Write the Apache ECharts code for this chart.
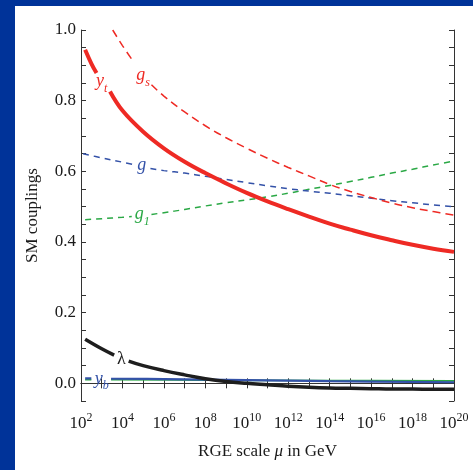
<!DOCTYPE html>
<html>
<head>
<meta charset="utf-8">
<script src="https://cdn.jsdelivr.net/npm/echarts@6/dist/echarts.min.js"></script>
<style>
	html, body { margin: 0; padding: 0; background: #003399; width: 473px; height: 470px; overflow: hidden; }
	#chart { position: absolute; left: 15px; top: 6px; width: 458px; height: 464px; background: #fff; }
</style>
</head>
<body>
<div id="chart"></div>
<script>
// x values are log10(mu / GeV); null marks a gap where a curve label sits
var expYt = [2.2, 2.5, 2.75, null, 3.4, 4, 5, 6, 7, 8, 9, 10, 11, 12, 13, 14, 15, 16, 17, 18, 19, 20];
var valYt = [0.944, 0.905, 0.878, null, 0.826, 0.772, 0.712, 0.665, 0.627, 0.595, 0.566, 0.539, 0.515, 0.493, 0.472, 0.452, 0.435, 0.419, 0.405, 0.392, 0.381, 0.372];

var expGs = [3.53, 4, 4.5, null, 5.4, 6, 7, 8, 9, 10, 11, 12, 13, 14, 15, 16, 17, 18, 19, 20];
var valGs = [1.0, 0.956, 0.913, null, 0.845, 0.813, 0.768, 0.729, 0.695, 0.665, 0.637, 0.611, 0.587, 0.563, 0.543, 0.526, 0.510, 0.497, 0.486, 0.476];

var expG = [2.1, 3, 4, 4.55, null, 5.35, 6, 7, 8, 9, 10, 11, 12, 13, 14, 15, 16, 17, 18, 19, 20];
var valG = [0.650, 0.638, 0.626, 0.619, null, 0.608, 0.602, 0.595, 0.586, 0.577, 0.568, 0.559, 0.551, 0.544, 0.538, 0.531, 0.524, 0.517, 0.511, 0.505, 0.500];

var expG1 = [2.2, 3, 4, 4.45, null, 5.4, 6, 7, 8, 9, 10, 11, 12, 13, 14, 15, 16, 17, 18, 19, 20];
var valG1 = [0.463, 0.466, 0.470, 0.472, null, 0.478, 0.483, 0.492, 0.502, 0.511, 0.519, 0.528, 0.538, 0.549, 0.560, 0.571, 0.583, 0.595, 0.606, 0.618, 0.629];

var expLam = [2.2, 3, 3.6, null, 4.3, 5, 6, 7, 8, 9, 10, 11, 12, 13, 14, 15, 16, 17, 18, 19, 20];
var valLam = [0.125, 0.098, 0.080, null, 0.063, 0.050, 0.036, 0.024, 0.013, 0.005, 0.000, -0.004, -0.008, -0.011, -0.013, -0.014, -0.015, -0.016, -0.016, -0.017, -0.017];

var expYb = [2.2, 2.5, null, 3.45, 6, 10, 14, 20];
var valYb = [0.014, 0.014, null, 0.013, 0.012, 0.009, 0.006, 0.003];

var expGreen = [2.2, 2.5, null, 3.45, 8, 14, 20];
var valGreen = [0.010, 0.010, null, 0.010, 0.009, 0.008, 0.007];

var xLabelExps = [2, 4, 6, 8, 10, 12, 14, 16, 18, 20];
var yLabelVals = [0, 0.2, 0.4, 0.6, 0.8, 1.0];
var yTickVals = [-0.05, 0, 0.05, 0.1, 0.15, 0.2, 0.25, 0.3, 0.35, 0.4, 0.45, 0.5, 0.55, 0.6, 0.65, 0.7, 0.75, 0.8, 0.85, 0.9, 0.95, 1.0];

var serif = '"Liberation Serif", "DejaVu Serif", serif';
var red = '#ee2a24';
var blue = '#3452a8';
var green = '#2aa845';
var black = '#1e1e1e';

function pairs(xs, ys) {
	var out = [];
	for(var i = 0; i < xs.length; i++) {
		if(ys[i] === null) {
			out.push('-');
		} else {
			out.push([xs[i], ys[i]]);
		}
	}
	return out;
}

function curveLabel(x, y, text, color, italic) {
	return {
		symbol: 'circle',
		symbolSize: 0,
		silent: true,
		data: [{ coord: [x, y], value: 0 }],
		label: {
			show: true,
			position: 'inside',
			formatter: text,
			color: color,
			fontFamily: serif,
			fontSize: 18,
			fontStyle: italic ? 'italic' : 'normal',
			rich: {
				m: { fontFamily: serif, fontSize: 18, fontStyle: italic ? 'italic' : 'normal', color: color, lineHeight: 22, verticalAlign: 'top' },
				s: { fontFamily: serif, fontSize: 12, fontStyle: 'italic', color: color, lineHeight: 22, verticalAlign: 'bottom' }
			}
		}
	};
}

function makeLine(name, xs, ys, color, width, dash, mark) {
	var s = {
		name: name,
		type: 'line',
		data: pairs(xs, ys),
		smooth: 0.4,
		showSymbol: false,
		symbol: 'none',
		connectNulls: false,
		silent: true,
		lineStyle: { color: color, width: width, type: dash || 'solid' },
		z: 3
	};
	if(mark) {
		s.markPoint = mark;
	}
	return s;
}

var tickStyle = { color: '#333', width: 1 };
var axisFont = { fontFamily: serif, fontSize: 17, color: '#1a1a1a' };

var option = {
	animation: false,
	grid: { left: 66, right: 19, top: 24, bottom: 69 },
	xAxis: [{
		type: 'value',
		min: 2,
		max: 20,
		interval: 1,
		position: 'bottom',
		axisLine: { lineStyle: tickStyle },
		axisTick: { inside: true, length: 5, lineStyle: tickStyle },
		splitLine: { show: false },
		axisLabel: {
			customValues: xLabelExps,
			margin: 11,
			formatter: function(v) {
				return '{b|10}{s|' + v + '}';
			},
			rich: {
				b: { fontFamily: serif, fontSize: 17, color: '#1a1a1a', lineHeight: 20, verticalAlign: 'bottom' },
				s: { fontFamily: serif, fontSize: 12, color: '#1a1a1a', lineHeight: 20, verticalAlign: 'top' }
			}
		},
		name: 'RGE scale {i|μ} in GeV',
		nameLocation: 'middle',
		nameGap: 42,
		nameTextStyle: {
			fontFamily: serif, fontSize: 17, color: '#1a1a1a',
			rich: { i: { fontFamily: serif, fontSize: 17, fontStyle: 'italic', color: '#1a1a1a' } }
		}
	}, {
		type: 'value',
		min: 2,
		max: 20,
		interval: 1,
		position: 'top',
		axisLine: { lineStyle: tickStyle },
		axisTick: { inside: true, length: 5, lineStyle: tickStyle },
		axisLabel: { show: false },
		splitLine: { show: false }
	}],
	yAxis: [{
		type: 'value',
		min: -0.05,
		max: 1.0,
		position: 'left',
		axisLine: { show: true, lineStyle: tickStyle },
		axisTick: { show: true, inside: true, length: 5, customValues: yTickVals, lineStyle: tickStyle },
		splitLine: { show: false },
		axisLabel: {
			customValues: yLabelVals,
			margin: 5,
			fontFamily: axisFont.fontFamily,
			fontSize: axisFont.fontSize,
			color: axisFont.color,
			formatter: function(v) {
				return v.toFixed(1);
			}
		},
		name: 'SM couplings',
		nameLocation: 'middle',
		nameGap: 40,
		nameTextStyle: { fontFamily: serif, fontSize: 17, color: '#1a1a1a' }
	}, {
		type: 'value',
		min: -0.05,
		max: 1.0,
		position: 'right',
		axisLine: { show: true, lineStyle: tickStyle },
		axisTick: { show: true, inside: true, length: 5, customValues: yTickVals, lineStyle: tickStyle },
		axisLabel: { show: false },
		splitLine: { show: false }
	}],
	series: [
		makeLine('green', expGreen, valGreen, green, 1.6, 'solid', null),
		makeLine('yb', expYb, valYb, blue, 2.2, 'solid', curveLabel(3.0, 0.006, '{m|y}{s|b}', blue, true)),
		makeLine('λ', expLam, valLam, black, 3.5, 'solid', curveLabel(3.95, 0.068, 'λ', black, false)),
		makeLine('g1', expG1, valG1, green, 1.5, [6, 5], curveLabel(4.95, 0.472, '{m|g}{s|1}', green, true)),
		makeLine('g', expG, valG, blue, 1.5, [6, 5], curveLabel(4.93, 0.612, '{m|g}', blue, true)),
		makeLine('gs', expGs, valGs, red, 1.5, [8, 5], curveLabel(5.0, 0.866, '{m|g}{s|s}', red, true)),
		makeLine('yt', expYt, valYt, red, 4, 'solid', curveLabel(3.0, 0.848, '{m|y}{s|t}', red, true))
	]
};

echarts.init(document.getElementById('chart')).setOption(option);
</script>
</body>
</html>
